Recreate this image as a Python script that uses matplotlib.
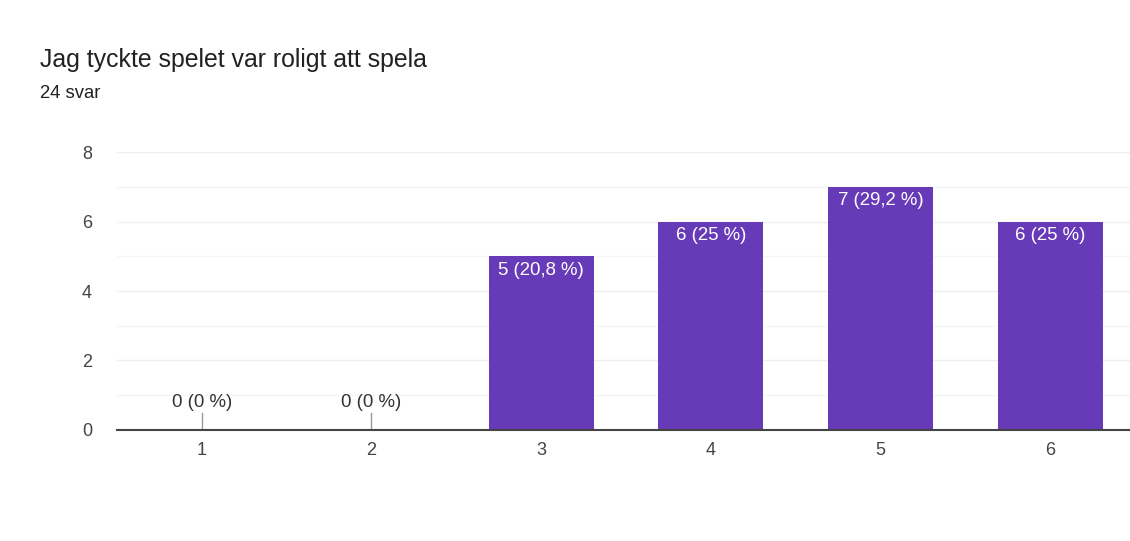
import matplotlib.pyplot as plt
from matplotlib.ticker import MultipleLocator

# Data
categories = ["1", "2", "3", "4", "5", "6"]
counts = [0, 0, 5, 6, 7, 6]
labels = ["0 (0 %)", "0 (0 %)", "5 (20,8 %)", "6 (25 %)", "7 (29,2 %)", "6 (25 %)"]

plt.rcParams['font.family'] = ['Liberation Sans', 'DejaVu Sans']

fig = plt.figure(figsize=(11.3, 5.41), dpi=100)
ax = fig.add_axes([0.1035, 0.2052, 0.8965, 0.5138])

x = list(range(1, len(categories) + 1))
purple = '#673ab7'
ax.bar(x, counts, width=0.62, color=purple, zorder=3)

for xi, c, lab in zip(x, counts, labels):
    if c == 0:
        ax.plot([xi, xi], [0, 0.5], color='#999999', lw=1, zorder=3)
        ax.text(xi, 0.78, lab, ha='center', va='center', fontsize=13.4, color='#333333')
    else:
        ax.text(xi, c - 0.4, lab, ha='center', va='center', fontsize=13.4, color='white', zorder=4)

ax.set_xlim(0.5, 6.47)
ax.set_ylim(0, 8)
ax.set_xticks(x)
ax.set_xticklabels(categories)
ax.yaxis.set_major_locator(MultipleLocator(2))
ax.yaxis.set_minor_locator(MultipleLocator(1))
ax.grid(axis='y', which='major', color='#efefef', lw=1, zorder=0)
ax.grid(axis='y', which='minor', color='#f5f5f5', lw=1, zorder=0)
ax.tick_params(axis='both', which='both', length=0, labelsize=13, labelcolor='#444444')
ax.tick_params(axis='y', pad=18)
ax.tick_params(axis='x', pad=9)
for s in ['top', 'right', 'left']:
    ax.spines[s].set_visible(False)
ax.spines['bottom'].set_color('#444444')
ax.spines['bottom'].set_linewidth(1.5)
ax.spines['bottom'].set_zorder(5)

fig.text(40 / 1130, 1 - 60 / 541, "Jag tyckte spelet var roligt att spela", fontsize=17.9,
         color='#202124', ha='left', va='center')
fig.text(40 / 1130, 1 - 93 / 541, "24 svar", fontsize=13.3, color='#202124', ha='left', va='center')

fig.savefig('out.png', dpi=100)
